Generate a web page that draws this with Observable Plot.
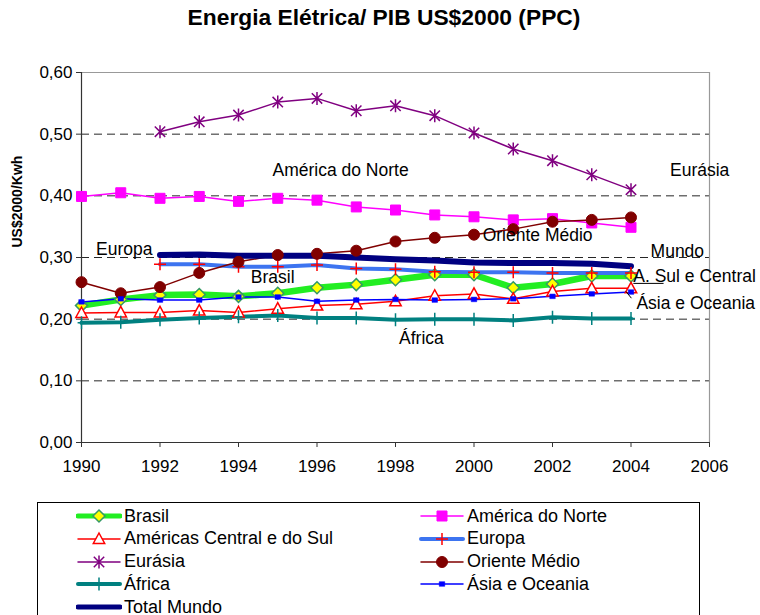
<!DOCTYPE html>
<html><head><meta charset="utf-8">
<script src="https://cdn.jsdelivr.net/npm/d3@7"></script>
<script src="https://cdn.jsdelivr.net/npm/@observablehq/plot@0.6"></script>
<style>
body{margin:0;background:#fff;font-family:"Liberation Sans",Arial,sans-serif;}
#wrap{position:relative;width:760px;height:615px;overflow:hidden;background:#fff;}
#chart{position:absolute;left:0;top:0;}
#title{position:absolute;left:4px;top:6px;width:760px;text-align:center;font-size:22.8px;font-weight:bold;line-height:22px;color:#000;}
#legend{position:absolute;left:37px;top:502px;width:663px;height:140px;border:1px solid #000;box-sizing:border-box;background:#fff;}
.li{position:absolute;height:22px;display:flex;align-items:center;font-size:18px;white-space:nowrap;color:#000;}
.li svg{display:block;margin-right:2px;}
</style></head>
<body>
<div id="wrap">
  <div id="chart"></div>
  <div id="title">Energia Elétrica/ PIB US$2000 (PPC)</div>
  <div id="legend"></div>
</div>
<script>
// ---- data ----
const years = [1990,1991,1992,1993,1994,1995,1996,1997,1998,1999,2000,2001,2002,2003,2004];
const brasil       = [0.222,0.232,0.239,0.240,0.237,0.242,0.251,0.256,0.264,0.272,0.272,0.251,0.257,0.270,0.270];
const americaNorte = [0.399,0.405,0.396,0.399,0.391,0.396,0.393,0.382,0.377,0.369,0.366,0.361,0.363,0.356,0.349];
const americasCS   = [0.210,0.211,0.211,0.214,0.211,0.217,0.222,0.224,0.229,0.238,0.241,0.233,0.245,0.250,0.250];
const europa       = [null,null,0.289,0.289,0.285,0.285,0.288,0.282,0.281,0.277,0.276,0.276,0.275,0.275,0.275];
const eurasia      = [null,null,0.504,0.520,0.531,0.552,0.558,0.538,0.546,0.530,0.502,0.476,0.457,0.434,0.410];
const orienteMedio = [0.260,0.242,0.252,0.275,0.293,0.304,0.306,0.311,0.326,0.332,0.337,0.346,0.358,0.361,0.365];
const africa       = [0.194,0.195,0.199,0.202,0.204,0.206,0.202,0.202,0.199,0.200,0.200,0.198,0.203,0.201,0.201];
const asiaOceania  = [0.228,0.233,0.231,0.231,0.236,0.236,0.229,0.231,0.232,0.231,0.232,0.233,0.237,0.241,0.244];
const totalMundo   = [null,null,0.304,0.305,0.303,0.303,0.303,0.300,0.297,0.295,0.292,0.291,0.291,0.290,0.286];

const xTicks = [1990,1992,1994,1996,1998,2000,2002,2004,2006];
const yTicks = [0,0.1,0.2,0.3,0.4,0.5,0.6];
const gridTicks = [0.1,0.2,0.3,0.4,0.5];

const annotations = [
  {label:"América do Norte", x:1996.6, y:0.441},
  {label:"Eurásia", x:2005.75, y:0.441},
  {label:"Europa", x:1991.09, y:0.313},
  {label:"Brasil", x:1994.87, y:0.268},
  {label:"Oriente Médio", x:2001.62, y:0.336},
  {label:"Mundo", x:2005.18, y:0.310},
  {label:"A. Sul e Central", x:2005.62, y:0.269},
  {label:"Ásia e Oceania", x:2005.65, y:0.225},
  {label:"África", x:1998.66, y:0.169}
];
const leaders = [
  {x1:2004.06, y1:0.258, x2:2004.83, y2:0.258},
  {x1:2003.87, y1:0.245, x2:2004.01, y2:0.234}
];

// ---- marker shapes ----
const rr = s => Math.sqrt(s / Math.PI);
const sym = {
  diamond:{draw(c,s){const r=rr(s);c.moveTo(0,-r);c.lineTo(r,0);c.lineTo(0,r);c.lineTo(-r,0);c.closePath();}},
  square:{draw(c,s){const r=rr(s);c.rect(-r,-r,2*r,2*r);}},
  triangle:{draw(c,s){const r=rr(s);c.moveTo(0,-r);c.lineTo(r*0.95,r*0.75);c.lineTo(-r*0.95,r*0.75);c.closePath();}},
  plus:{draw(c,s){const r=rr(s);c.moveTo(-r,0);c.lineTo(r,0);c.moveTo(0,-r);c.lineTo(0,r);}},
  tallplus:{draw(c,s){const r=rr(s);c.moveTo(-r*0.6,0);c.lineTo(r*0.6,0);c.moveTo(0,-r);c.lineTo(0,r);}},
  star:{draw(c,s){const r=rr(s);c.moveTo(-r*0.8,-r*0.8);c.lineTo(r*0.8,r*0.8);c.moveTo(-r*0.8,r*0.8);c.lineTo(r*0.8,-r*0.8);c.moveTo(0,-r);c.lineTo(0,r);}},
  circle:{draw(c,s){const r=rr(s);c.moveTo(r,0);c.arc(0,0,r,0,2*Math.PI);c.closePath();}},
  smallsquare:{draw(c,s){const r=rr(s);c.rect(-r*1.2,-r,2.4*r,2*r);}}
};

const series = [
  {name:"Brasil", values:brasil, color:"#22EE22", width:6.5, sym:"diamond", r:6, fill:"#FFFF00", mstroke:"#339966", msw:1.5},
  {name:"América do Norte", values:americaNorte, color:"#FF00FF", width:1.5, sym:"square", r:5, fill:"#FF00FF", mstroke:"#FF00FF", msw:1},
  {name:"Américas Central e do Sul", values:americasCS, color:"#FF0000", width:1.5, sym:"triangle", r:6, fill:"#FFFFFF", mstroke:"#FF0000", msw:1.5},
  {name:"Europa", values:europa, color:"#3D74F0", width:4, sym:"plus", r:6, fill:"none", mstroke:"#FF0000", msw:1.5},
  {name:"Eurásia", values:eurasia, color:"#800080", width:1.5, sym:"star", r:6.5, fill:"none", mstroke:"#800080", msw:1.5},
  {name:"Oriente Médio", values:orienteMedio, color:"#800000", width:1.5, sym:"circle", r:5.5, fill:"#800000", mstroke:"#800000", msw:1},
  {name:"África", values:africa, color:"#008080", width:4, sym:"tallplus", r:6.5, fill:"none", mstroke:"#008080", msw:1.5},
  {name:"Ásia e Oceania", values:asiaOceania, color:"#0000FF", width:1.5, sym:"smallsquare", r:2.3, fill:"#0000FF", mstroke:"#0000FF", msw:0.5},
  {name:"Total Mundo", values:totalMundo, color:"#000080", width:6, sym:null}
];

const rowsOf = s => years.map((year,i)=>({year, value:s.values[i]})).filter(d=>d.value!=null);

const lineMarks = series.map(s => Plot.line(rowsOf(s), {x:"year", y:"value", stroke:s.color, strokeWidth:s.width, strokeLinejoin:"round", strokeLinecap:"round"}));
const dotMarks = series.filter(s=>s.sym).map(s => Plot.dot(rowsOf(s), {x:"year", y:"value", symbol:sym[s.sym], r:s.r, fill:s.fill, stroke:s.mstroke, strokeWidth:s.msw}));

const fmtY = d => d.toFixed(2).replace(".", ",");
const FONT = '"Liberation Sans", Arial, sans-serif';

const chart = Plot.plot({
  width:760, height:500,
  marginLeft:81, marginRight:51, marginTop:72, marginBottom:58,
  style:{fontFamily:FONT, fontSize:"17px", color:"#000", background:"transparent", overflow:"visible"},
  x:{domain:[1990,2006]},
  y:{domain:[0,0.6]},
  marks:[
    Plot.ruleY(gridTicks, {stroke:"#000", strokeDasharray:"8,5", strokeWidth:1, strokeOpacity:0.85}),
    Plot.ruleY([0.6], {stroke:"#999", strokeWidth:1.2}),
    Plot.ruleX([2006], {stroke:"#999", strokeWidth:1.2}),
    Plot.axisY({ticks:yTicks, tickFormat:fmtY, tickSize:5, tickPadding:4, label:null, fontSize:17, stroke:"#333"}),
    Plot.axisX({ticks:xTicks, tickFormat:d=>String(d), tickSize:5, tickPadding:12, label:null, fontSize:17, stroke:"#333"}),
    Plot.ruleX([1990], {stroke:"#333", strokeWidth:1.2}),
    Plot.ruleY([0], {stroke:"#333", strokeWidth:1.2}),
    Plot.text(["US$2000/Kwh"], {frameAnchor:"left", rotate:-90, dx:-64, dy:-10, fontSize:14, fontWeight:"bold", fill:"#000"}),
    ...lineMarks,
    ...dotMarks,
    Plot.link(leaders, {x1:"x1", y1:"y1", x2:"x2", y2:"y2", stroke:"#000", strokeWidth:1}),
    Plot.text(annotations, {x:"x", y:"y", text:"label", fontSize:17.5, fill:"#000"})
  ]
});
document.getElementById("chart").appendChild(chart);

// ---- legend ----
const legend = document.getElementById("legend");
series.forEach((s,i)=>{
  const col = i % 2, row = Math.floor(i/2);
  const item = document.createElement("div");
  item.className = "li";
  item.style.left = (col ? 381 : 38) + "px";
  item.style.top = (2 + row*22.75) + "px";
  const ns = "http://www.w3.org/2000/svg";
  const sv = document.createElementNS(ns, "svg");
  sv.setAttribute("width", 46); sv.setAttribute("height", 20);
  const ln = document.createElementNS(ns, "line");
  ln.setAttribute("x1", 2); ln.setAttribute("x2", 44); ln.setAttribute("y1", 10); ln.setAttribute("y2", 10);
  ln.setAttribute("stroke", s.color); ln.setAttribute("stroke-width", Math.min(s.width, 5)); ln.setAttribute("stroke-linecap","round");
  sv.appendChild(ln);
  if (s.sym) {
    const p = document.createElementNS(ns, "path");
    p.setAttribute("d", d3.symbol(sym[s.sym], Math.PI*s.r*s.r)());
    p.setAttribute("transform", "translate(23,10)");
    p.setAttribute("fill", s.fill); p.setAttribute("stroke", s.mstroke); p.setAttribute("stroke-width", s.msw);
    sv.appendChild(p);
  }
  item.appendChild(sv);
  const t = document.createElement("span");
  t.textContent = s.name;
  item.appendChild(t);
  legend.appendChild(item);
});
</script>
</body></html>
